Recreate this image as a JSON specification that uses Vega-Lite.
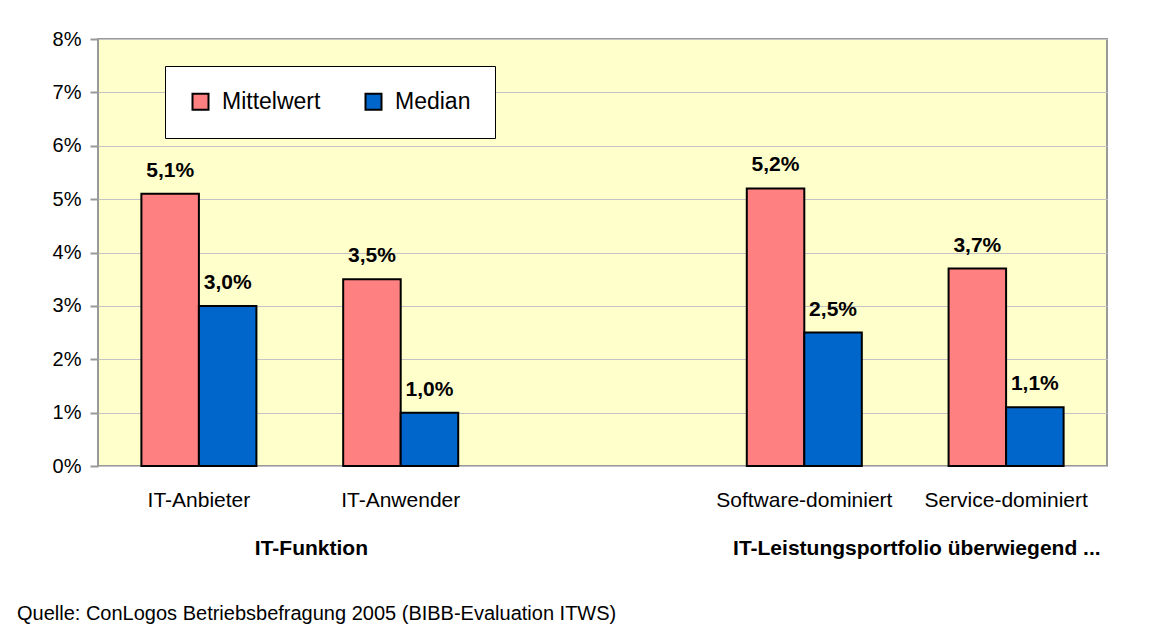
{
  "$schema": "https://vega.github.io/schema/vega-lite/v6.json",
  "width": 1009,
  "height": 427,
  "autosize": "none",
  "padding": {"left": 98, "top": 39, "right": 69, "bottom": 168},
  "background": "white",
  "config": {
    "locale": {"number": {"decimal": ",", "thousands": ".", "grouping": [3], "currency": ["", " €"]}},
    "font": "Liberation Sans",
    "view": {"fill": "#ffffcc", "stroke": "#999999", "strokeWidth": 2}
  },
  "title": {
    "text": "Quelle: ConLogos Betriebsbefragung 2005 (BIBB-Evaluation ITWS)",
    "orient": "bottom",
    "anchor": "start",
    "frame": "group",
    "dx": -81,
    "offset": 46,
    "fontSize": 20,
    "fontWeight": "normal",
    "color": "black",
    "font": "Liberation Sans"
  },
  "datasets": {
    "werte": [
      {"Kategorie": "IT-Anbieter", "Kennzahl": "Mittelwert", "Wert": 0.051},
      {"Kategorie": "IT-Anbieter", "Kennzahl": "Median", "Wert": 0.030},
      {"Kategorie": "IT-Anwender", "Kennzahl": "Mittelwert", "Wert": 0.035},
      {"Kategorie": "IT-Anwender", "Kennzahl": "Median", "Wert": 0.010},
      {"Kategorie": "Software-dominiert", "Kennzahl": "Mittelwert", "Wert": 0.052},
      {"Kategorie": "Software-dominiert", "Kennzahl": "Median", "Wert": 0.025},
      {"Kategorie": "Service-dominiert", "Kennzahl": "Mittelwert", "Wert": 0.037},
      {"Kategorie": "Service-dominiert", "Kennzahl": "Median", "Wert": 0.011}
    ],
    "gruppen": [
      {"Gruppe": "IT-Funktion"},
      {"Gruppe": "IT-Leistungsportfolio überwiegend ..."}
    ]
  },
  "layer": [
    {
      "data": {"name": "werte"},
      "encoding": {
        "x": {
          "field": "Kategorie",
          "type": "nominal",
          "scale": {
            "domain": ["IT-Anbieter", "IT-Anwender", "-", "Software-dominiert", "Service-dominiert"],
            "paddingInner": 0.43,
            "paddingOuter": 0.215
          },
          "axis": {
            "title": null,
            "domain": false,
            "ticks": false,
            "tickSize": 0,
            "labelExpr": "datum.value == '-' ? '' : datum.value",
            "labelPadding": 23,
            "labelFontSize": 21,
            "labelColor": "black",
            "labelFont": "Liberation Sans",
            "labelAngle": 0,
            "labelLimit": 0,
            "grid": false
          }
        },
        "xOffset": {
          "field": "Kennzahl",
          "type": "nominal",
          "scale": {"domain": ["Mittelwert", "Median"], "paddingInner": 0, "paddingOuter": 0}
        },
        "y": {
          "field": "Wert",
          "type": "quantitative",
          "scale": {"domain": [0, 0.08], "nice": false},
          "axis": {
            "title": null,
            "format": ".0%",
            "values": [0, 0.01, 0.02, 0.03, 0.04, 0.05, 0.06, 0.07, 0.08],
            "domain": false,
            "tickSize": 8,
            "tickColor": "#999999",
            "tickWidth": 2,
            "labelPadding": 9,
            "labelFontSize": 20,
            "labelColor": "black",
            "labelFont": "Liberation Sans",
            "gridColor": "#c4c4c4"
          }
        }
      },
      "layer": [
        {
          "mark": {"type": "bar", "stroke": "black", "strokeWidth": 2},
          "encoding": {
            "color": {
              "field": "Kennzahl",
              "type": "nominal",
              "scale": {"domain": ["Mittelwert", "Median"], "range": ["#ff8080", "#0066cc"]},
              "legend": {
                "title": null,
                "orient": "none",
                "legendX": 67,
                "legendY": 27,
                "direction": "horizontal",
                "fillColor": "white",
                "strokeColor": "black",
                "padding": 24,
                "symbolType": "square",
                "symbolSize": 256,
                "symbolStrokeColor": "black",
                "symbolStrokeWidth": 2,
                "labelFontSize": 23,
                "labelFont": "Liberation Sans",
                "labelColor": "black",
                "labelOffset": 10,
                "columnPadding": 40
              }
            }
          }
        },
        {
          "mark": {"type": "text", "fontSize": 21, "fontWeight": "bold", "baseline": "alphabetic", "dy": -17, "color": "black", "font": "Liberation Sans"},
          "encoding": {
            "text": {"field": "Wert", "type": "quantitative", "format": ".1%"}
          }
        }
      ]
    },
    {
      "data": {"name": "gruppen"},
      "mark": {"type": "text", "opacity": 0},
      "encoding": {
        "text": {"field": "Gruppe", "type": "nominal"},
        "x": {
          "field": "Gruppe",
          "type": "nominal",
          "scale": {
            "domain": ["IT-Funktion", "-a", "-b", "IT-Leistungsportfolio überwiegend ...", "-c"],
            "paddingInner": 0.43,
            "paddingOuter": 0.215
          },
          "axis": {
            "orient": "bottom",
            "title": null,
            "domain": false,
            "ticks": false,
            "tickSize": 0,
            "grid": false,
            "labelExpr": "indexof(datum.value, '-') == 0 ? '' : datum.value",
            "labelPadding": 71,
            "labelOffset": 112,
            "labelFontSize": 21,
            "labelFontWeight": "bold",
            "labelColor": "black",
            "labelFont": "Liberation Sans",
            "labelAngle": 0,
            "labelLimit": 0,
            "labelOverlap": false
          }
        }
      }
    }
  ],
  "resolve": {"scale": {"x": "independent"}}
}
